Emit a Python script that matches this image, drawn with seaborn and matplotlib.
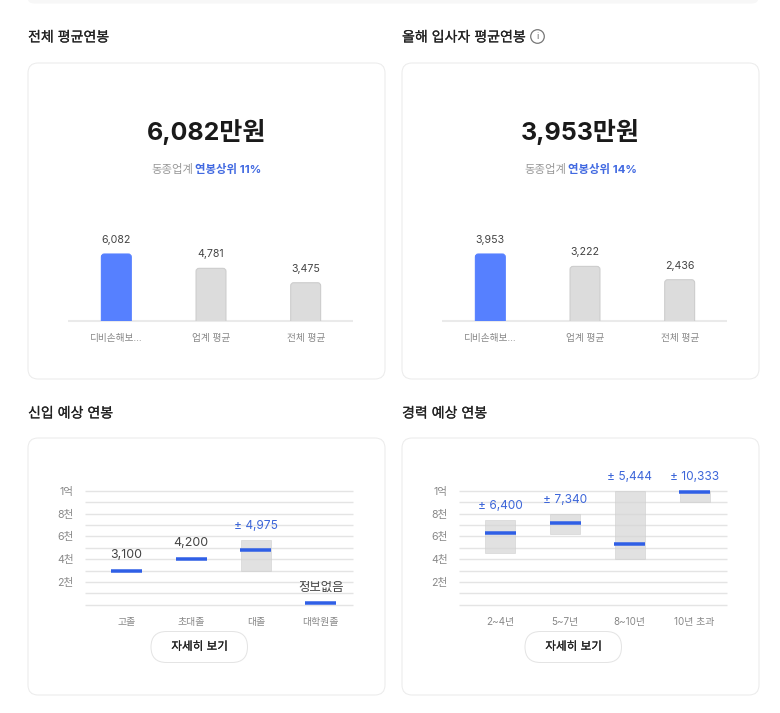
import seaborn as sns
import matplotlib.pyplot as plt
import matplotlib.patheffects as pe
from matplotlib.patches import FancyBboxPatch, Circle
from matplotlib.transforms import IdentityTransform, ScaledTranslation

# data
avg_cats = ['디비손해보...', '업계 평균', '전체 평균']
avg_all = [6082, 4781, 3475]
avg_new = [3953, 3222, 2436]

new_cats = ['고졸', '초대졸', '대졸', '대학원졸']
new_vals = [3100, 4200, 4975, 260]
new_low = [0, 0, 3000, 0]
new_high = [0, 0, 5670, 0]
new_text = ['3,100', '4,200', '± 4,975', '정보없음']

exp_cats = ['2~4년', '5~7년', '8~10년', '10년 초과']
exp_vals = [6400, 7340, 5444, 10333]
exp_low = [4500, 6200, 4000, 9000]
exp_high = [7400, 8000, 10000, 10000]
exp_text = ['± 6,400', '± 7,340', '± 5,444', '± 10,333']

grid_vals = list(range(0, 11000, 1000))
grid_text = ['', '', '2천', '', '4천', '', '6천', '', '8천', '', '1억']

W, H = 780, 713
PX = 0.72  # px -> pt at dpi 100
BLUE_BAR = '#5680ff'
BLUE_LINE = '#2f5fe6'
BLUE_TEXT = '#3d66d9'

sns.set_theme(style='white')
plt.rcParams['font.family'] = ['Inter', 'Noto Sans CJK KR', 'DejaVu Sans']

fig = plt.figure(figsize=(W / 100, H / 100), dpi=100, facecolor='white')

# page layer in pixel coords
bg = fig.add_axes([0, 0, 1, 1], zorder=0)
bg.set_xlim(0, W)
bg.set_ylim(H, 0)
bg.axis('off')


def box(x0, y0, x1, y1, r, fc='white', ec='#ebebeb'):
    bg.add_patch(FancyBboxPatch((x0, y0), x1 - x0, y1 - y0,
                                boxstyle=f'round,pad=0,rounding_size={r}',
                                fc=fc, ec=ec, lw=0.72))


def make_axes(x0, y0, x1, y1):
    ax = fig.add_axes([x0 / W, 1 - y1 / H, (x1 - x0) / W, (y1 - y0) / H], zorder=2)
    ax.patch.set_alpha(0)
    sns.despine(ax=ax, left=True, bottom=True)
    return ax


def round_tops(ax, r=3):
    # swap the square seaborn bars for ones with rounded top corners
    for p in list(ax.patches):
        (x0, y0), (x1, y1) = ax.transData.transform(p.get_bbox().get_points())
        ax.add_patch(FancyBboxPatch((x0, y0 - 8), x1 - x0, y1 - y0 + 8,
                                    boxstyle=f'round,pad=0,rounding_size={r}',
                                    fc=p.get_facecolor(), ec=p.get_edgecolor(),
                                    lw=p.get_linewidth(), transform=IdentityTransform(),
                                    zorder=3))
        p.remove()


def avg_chart(x_off, vals):
    bg.hlines(321, 68 + x_off, 353 + x_off, color='#eaeaea', lw=1.5)
    ax = make_axes(69 + x_off, 230, 353 + x_off, 321)
    sns.barplot(x=avg_cats, y=vals, hue=avg_cats, order=avg_cats, hue_order=avg_cats,
                palette=[BLUE_BAR, '#dcdcdc', '#dcdcdc'], saturation=1, width=0.316,
                legend=False, ax=ax)
    ax.set_xlim(-0.5, 2.5)
    ax.set_ylim(0, max(vals) * 91 / 67)
    for p, c in zip(ax.patches, ['#5680ff', '#cdcdcd', '#cdcdcd']):
        p.set_edgecolor(c)
        p.set_linewidth(0.8)
    for i, v in enumerate(vals):
        ax.annotate(f'{v:,}', (i, v), xytext=(0, 14 * PX), textcoords='offset points',
                    ha='center', va='center', fontsize=10.6 * PX, color='#444444')
    round_tops(ax)
    ax.set_yticks([])
    ax.tick_params(axis='x', length=0, pad=12.5 * PX, labelsize=9.7 * PX, labelcolor='#888888')
    ax.set_xlabel('')


def range_chart(x_off, cats, vals, low, high, labels):
    ax = make_axes(85.3 + x_off, 490.7, 353 + x_off, 604.7)
    spans = [h - l for h, l in zip(high, low)]
    sns.barplot(x=cats, y=spans, order=cats, bottom=low, color='#d5d5d5', saturation=1,
                width=0.46, alpha=0.7, edgecolor='#d0d0d0', linewidth=0.6, ax=ax, zorder=2)
    ax.set_xlim(-0.633, 3.5)
    ax.set_ylim(0, 10000)
    ax.set_yticks(grid_vals, grid_text)
    ax.grid(axis='y', color='#e4e4e4', lw=1.0)
    for g in ax.get_ygridlines():
        g.set_clip_on(False)
        g.set_solid_capstyle('butt')
    ax.set_axisbelow(True)
    ax.tick_params(axis='y', length=0, pad=11.5 * PX, labelsize=10.6 * PX, labelcolor='#888888')
    ax.tick_params(axis='x', length=0, pad=12 * PX, labelsize=9.9 * PX, labelcolor='#888888')
    # value lines hang from the value, top edge on it, capped at the axis top
    drop = ScaledTranslation(0, -1.75 / 100, fig.dpi_scale_trans)
    for i, v in enumerate(vals):
        y = min(v, 10000)
        ax.hlines(y, i - 0.24, i + 0.24, color=BLUE_LINE, lw=3.5 * PX, capstyle='butt',
                  transform=ax.transData + drop, zorder=5, clip_on=False)
        top = max(y, high[i])
        blue = labels[i].startswith('±')
        ax.annotate(labels[i], (i, top), xytext=(0, 14 * PX), textcoords='offset points',
                    ha='center', va='center', fontsize=(11.9 if blue else 12.4) * PX,
                    color=BLUE_TEXT if blue else '#444444', annotation_clip=False)


# top strip of the previous section
box(28, -12, 758, 3, 6, fc='#f7f7f7', ec='#f7f7f7')

# cards
box(28, 63, 385, 379, 10)
box(402, 63, 759, 379, 10)
box(28, 438, 385, 695, 10)
box(402, 438, 759, 695, 10)

# section titles
for x, y, t in [(28, 37.5, '전체 평균연봉'), (402, 37.5, '올해 입사자 평균연봉'),
                (28, 413.5, '신입 예상 연봉'), (402, 413.5, '경력 예상 연봉')]:
    bg.text(x, y, t, ha='left', va='center', fontsize=14 * PX, color='#222222',
            path_effects=[pe.withStroke(linewidth=0.15, foreground='#222222')])

# info icon
bg.add_patch(Circle((537.5, 36.5), 6.8, fc='white', ec='#777777', lw=0.9))
bg.text(537.5, 36.5, 'i', ha='center', va='center', fontsize=9 * PX, color='#666666')

# headline numbers
for cx, t in [(206.5, '6,082만원'), (580.5, '3,953만원')]:
    bg.text(cx, 132, t, ha='center', va='center', fontsize=25 * PX, fontweight='bold', color='#1a1a1a')
for x0, x1, t in [(151, 195, '연봉상위 11%'), (524.5, 568.5, '연봉상위 14%')]:
    bg.text(x0, 169, '동종업계', ha='left', va='center', fontsize=11.4 * PX, color='#999999')
    bg.text(x1, 169, t, ha='left', va='center', fontsize=11.4 * PX, fontweight='bold', color='#4169e1')

avg_chart(0, avg_all)
avg_chart(374, avg_new)
range_chart(0, new_cats, new_vals, new_low, new_high, new_text)
range_chart(374, exp_cats, exp_vals, exp_low, exp_high, exp_text)

# buttons
for x0 in [151, 525]:
    box(x0, 631.5, x0 + 96.5, 662.5, 15.5, ec='#e4e4e4')
    bg.text(x0 + 48.5, 647, '자세히 보기', ha='center', va='center', fontsize=11.6 * PX,
            color='#222222', path_effects=[pe.withStroke(linewidth=0.15, foreground='#222222')])

fig.savefig('out.png', dpi=100)
